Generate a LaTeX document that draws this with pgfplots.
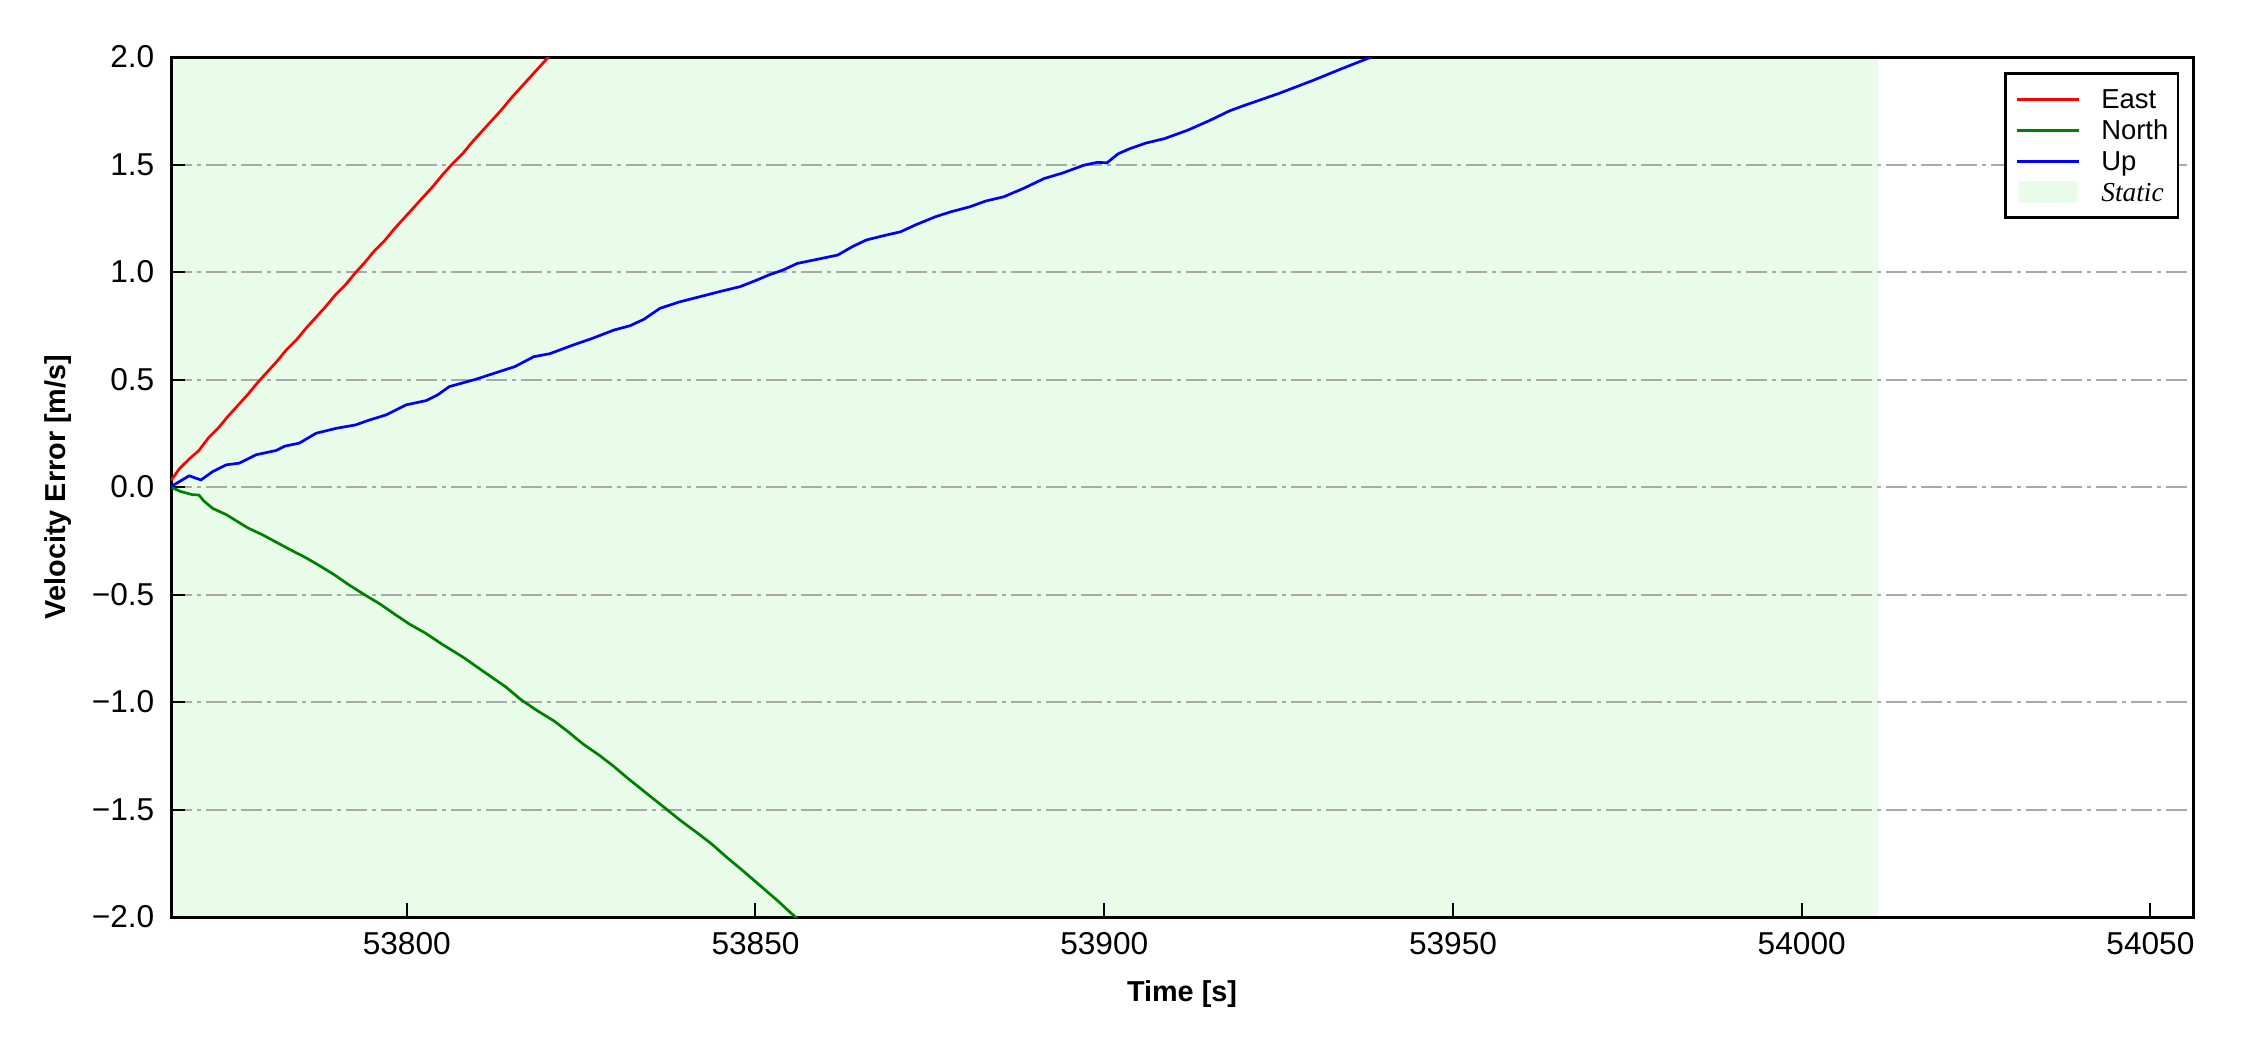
\documentclass[border=0pt]{standalone}
\usepackage{fontspec}
\setmainfont{Liberation Sans}
\newfontfamily\timesfont{Liberation Serif}
\usepackage{pgfplots}
\pgfplotsset{compat=1.18}
\definecolor{staticgreen}{RGB}{233,252,233}
\definecolor{gridgray}{RGB}{169,169,169}
\definecolor{mplgreen}{RGB}{0,128,0}
\begin{document}
\begin{tikzpicture}
\begin{axis}[
  set layers,
  scale only axis,
  width=20.22cm, height=8.6cm,
  xmin=53766.2, xmax=54056.1,
  ymin=-2, ymax=2,
  scaled x ticks=false, scaled y ticks=false,
  xtick={53800,53850,53900,53950,54000,54050},
  xticklabels={53800,53850,53900,53950,54000,54050},
  ytick={-2,-1.5,-1,-0.5,0,0.5,1,1.5,2},
  yticklabels={−2.0,−1.5,−1.0,−0.5,0.0,0.5,1.0,1.5,2.0},
  tick align=inside,
  tick pos=left,
  major tick length=0.14cm,
  every tick/.style={black, line width=0.02cm},
  axis line style={line width=0.03cm},
  tick label style={font=\fontsize{9}{10}\selectfont, inner sep=0pt},
  xticklabel style={anchor=base, yshift=-0.373cm},
  yticklabel style={anchor=east, xshift=-0.16cm},
  ymajorgrids,
  major grid style={color=gridgray, line width=0.02cm, dash pattern=on 0.21cm off 0.05cm on 0.04cm off 0.05cm},
  xlabel={Time [s]},
  ylabel={Velocity Error [m/s]},
  label style={font=\fontsize{8.2}{10}\selectfont\bfseries, inner sep=0pt},
  xlabel style={at={(axis description cs:0.5,-0.0985)}, anchor=base},
  ylabel style={at={(axis description cs:-0.0521,0.5)}, anchor=base, rotate=0},
  legend cell align=left,
  legend image code/.code={\draw[#1] (0cm,0cm) -- (0.623cm,0cm);},
  legend style={at={(axis description cs:0.9933,0.9820)}, anchor=north east,
    draw=black, line width=0.028cm, fill=white,
    font=\fontsize{7.8}{9}\selectfont,
    inner xsep=0.097cm, inner ysep=0.105cm,
    column sep=0.21cm, row sep=0.42pt,
    nodes={inner sep=0pt, text height=7.0pt, text depth=1.4pt}},
]
\addplot[fill=staticgreen, draw=none, forget plot, on layer=axis background] coordinates {(53766.2,-2) (54011,-2) (54011,2) (53766.2,2)} -- cycle;

\addplot[red, line width=0.027cm] coordinates {
(53766.2,0.03) (53767.4,0.085) (53768.8,0.13) (53770.2,0.17) (53771.6,0.23)
(53773.0,0.275) (53774.4,0.33) (53775.8,0.38) (53777.2,0.43) (53778.6,0.485)
(53780.0,0.535) (53781.4,0.585) (53782.8,0.64) (53784.2,0.685) (53785.6,0.74)
(53787.0,0.79) (53788.4,0.84) (53789.8,0.895) (53791.2,0.94) (53792.6,0.995)
(53794.0,1.045) (53795.4,1.10) (53796.8,1.145) (53798.2,1.20) (53799.6,1.25)
(53801.0,1.30) (53802.4,1.35) (53803.8,1.40) (53805.2,1.455) (53806.6,1.505)
(53808.0,1.55) (53809.4,1.605) (53810.8,1.655) (53812.2,1.705) (53813.6,1.755)
(53815.0,1.81) (53816.4,1.86) (53817.8,1.91) (53819.2,1.96) (53820.6,2.01)
(53822.0,2.06)
};
\addlegendentry{East}

\addplot[mplgreen, line width=0.027cm] coordinates {
(53766.2,0.0) (53767.5,-0.02) (53769.3,-0.036) (53770.2,-0.037) (53770.9,-0.065)
(53772.2,-0.10) (53774.1,-0.128) (53775.7,-0.16) (53777.2,-0.19) (53779.3,-0.222)
(53781.2,-0.255) (53783.2,-0.29) (53785.6,-0.33) (53787.7,-0.37) (53789.7,-0.41)
(53791.7,-0.455) (53793.9,-0.50) (53796.2,-0.545) (53798.2,-0.59) (53800.4,-0.638)
(53802.7,-0.68) (53805.0,-0.73) (53808.1,-0.792) (53810.2,-0.84) (53812.2,-0.885)
(53814.2,-0.93) (53816.4,-0.99) (53818.7,-1.04) (53821.2,-1.09) (53823.2,-1.14)
(53825.3,-1.196) (53827.7,-1.25) (53829.7,-1.30) (53831.7,-1.355) (53834.2,-1.42)
(53837.1,-1.495) (53839.2,-1.55) (53841.7,-1.61) (53843.7,-1.66) (53845.8,-1.72)
(53848.2,-1.785) (53850.7,-1.855) (53853.2,-1.925) (53855.7,-2.0) (53857.2,-2.045)
};
\addlegendentry{North}

\addplot[blue, line width=0.027cm] coordinates {
(53766.2,0.002) (53768.8,0.052) (53770.5,0.033) (53772.2,0.072) (53774.1,0.103)
(53776.0,0.111) (53778.4,0.150) (53781.3,0.170) (53782.5,0.19) (53784.6,0.204)
(53787.0,0.250) (53789.9,0.273) (53792.7,0.289) (53794.5,0.31) (53797.0,0.335)
(53799.9,0.382) (53802.8,0.402) (53804.5,0.43) (53806.1,0.467) (53809.9,0.501)
(53813.3,0.537) (53815.5,0.56) (53818.2,0.606) (53820.5,0.62) (53823.9,0.661)
(53826.5,0.69) (53829.7,0.730) (53832.0,0.75) (53834.0,0.78) (53836.3,0.831)
(53839.0,0.86) (53842.0,0.885) (53845.0,0.91) (53847.8,0.932) (53850.0,0.96)
(53851.9,0.986) (53854.0,1.01) (53856.0,1.040) (53859.0,1.06) (53861.8,1.079)
(53864.0,1.12) (53865.9,1.149) (53868.5,1.17) (53870.8,1.187) (53873.0,1.22)
(53875.8,1.257) (53878.0,1.28) (53880.7,1.303) (53883.0,1.33) (53885.6,1.350)
(53888.5,1.39) (53891.4,1.435) (53894.0,1.46) (53897.1,1.497) (53899.0,1.51)
(53900.4,1.508) (53902.0,1.55) (53903.7,1.574) (53906.0,1.60) (53908.6,1.620)
(53912.0,1.66) (53915.2,1.706) (53918.0,1.75) (53920.2,1.776) (53925.0,1.83)
(53930.0,1.892) (53934.0,1.945) (53938.3,2.00) (53940.0,2.03)
};
\addlegendentry{Up}

\addlegendimage{draw=none, legend image code/.code={\fill[staticgreen, draw=none] (0.023cm,-0.108cm) rectangle (0.603cm,0.108cm); \path[draw=none] (0cm,0cm) -- (0.623cm,0cm);}}
\addlegendentry{{\timesfont\itshape Static}}

\coordinate (sw) at (rel axis cs:0,0);
\end{axis}
\path (sw) ++(-1.71cm,-1.33cm) rectangle ++(22.5cm,10.5cm);
\end{tikzpicture}
\end{document}
